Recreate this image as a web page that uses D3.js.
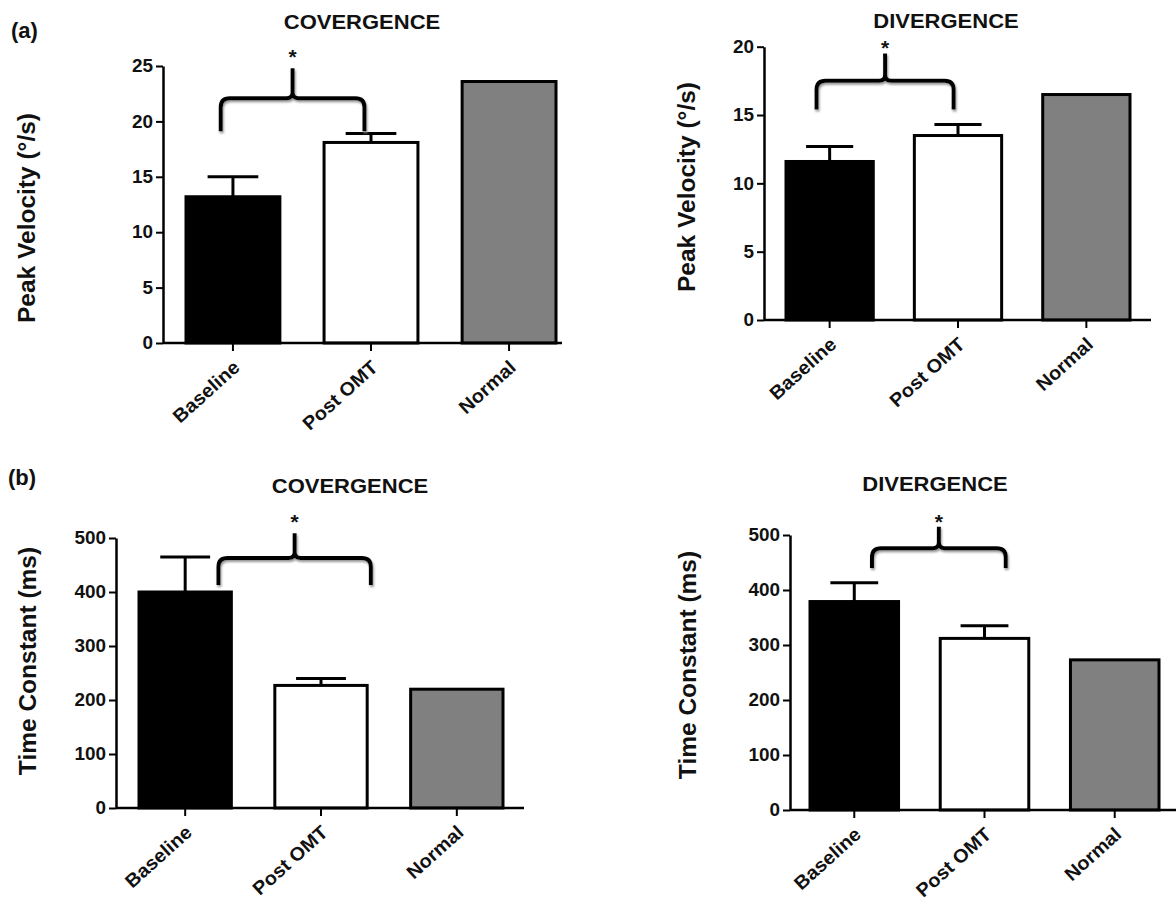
<!DOCTYPE html>
<html><head><meta charset="utf-8">
<script src="https://cdn.jsdelivr.net/npm/d3@7"></script>
<style>
body{margin:0;background:#fff}
svg{display:block}
text{font-family:"Liberation Sans",Arial,Helvetica,sans-serif;font-weight:bold;fill:#111}
</style>
</head><body>
<svg id="chart" width="1176" height="904"></svg>
<script>
// ---------- data ----------
const categories = ["Baseline", "Post OMT", "Normal"];
const convVelocity = [13.2, 18.1, 23.6];
const convVelocitySem = [1.8, 0.8, 0];
const divVelocity = [11.6, 13.5, 16.5];
const divVelocitySem = [1.1, 0.8, 0];
const convTime = [400, 227, 220];
const convTimeSem = [65, 13, 0];
const divTime = [379, 312, 273];
const divTimeSem = [34, 23, 0];
const velocityTicksConv = [0, 5, 10, 15, 20, 25];
const velocityTicksDiv = [0, 5, 10, 15, 20];
const timeTicks = [0, 100, 200, 300, 400, 500];
const panelTitles = ["COVERGENCE", "DIVERGENCE", "COVERGENCE", "DIVERGENCE"];
const yLabels = ["Peak Velocity (°/s)", "Peak Velocity (°/s)", "Time Constant (ms)", "Time Constant (ms)"];
const rowLabels = ["(a)", "(b)"];
const significance = "*";
const barColors = ["#000000", "#ffffff", "#808080"];

// ---------- layout ----------
const panels = [
  {values: convVelocity, sem: convVelocitySem, ticks: velocityTicksConv,
   axisX: 163, axisEnd: 562, bars: [186, 556], y0: 343, yTop: 66,
   titleX: 362, titleY: 29, labelX: 35, labelY: 218,
   br: {l: 0.37, r: 0.43, bottom: 19.1, h: 22.1, peak: 24.8, star: 26.3}},
  {values: divVelocity, sem: divVelocitySem, ticks: velocityTicksDiv,
   axisX: 764, axisEnd: 1151, bars: [786, 1130], y0: 320, yTop: 46.7,
   titleX: 946, titleY: 28, labelX: 695, labelY: 187,
   br: {l: 0.35, r: 0.45, bottom: 15.4, h: 17.5, peak: 19.5, star: 20.3}},
  {values: convTime, sem: convTimeSem, ticks: timeTicks,
   axisX: 116, axisEnd: 524, bars: [139, 503], y0: 808, yTop: 538,
   titleX: 350, titleY: 493, labelX: 36, labelY: 661,
   br: {l: 0.86, r: 1.04, bottom: 413, h: 463, peak: 509, star: 539}},
  {values: divTime, sem: divTimeSem, ticks: timeTicks,
   axisX: 790, axisEnd: 1176, bars: [810, 1159], y0: 810, yTop: 535,
   titleX: 935, titleY: 491, labelX: 696, labelY: 665,
   br: {l: 0.70, r: 0.74, bottom: 440, h: 476, peak: 515, star: 533}}
];
const rowLabelPos = [[11, 38], [8, 485]];

const svg = d3.select("#chart");
const defs = svg.append("defs");
const f = defs.append("filter").attr("id", "shadow").attr("x", "-20%").attr("y", "-20%").attr("width", "140%").attr("height", "160%");
f.append("feDropShadow").attr("dx", 1).attr("dy", 2).attr("stdDeviation", 1.2).attr("flood-color", "#8a8a8a").attr("flood-opacity", 0.9);

function stretch(sel, k) {
  sel.each(function () {
    const l = this.getComputedTextLength();
    this.setAttribute("textLength", l * k);
    this.setAttribute("lengthAdjust", "spacingAndGlyphs");
  });
}

panels.forEach((p, i) => {
  const g = svg.append("g");
  const y = d3.scaleLinear().domain([0, d3.max(p.ticks)]).range([p.y0, p.yTop]);
  const x = d3.scaleBand().domain(categories).range(p.bars).paddingInner(0.32).paddingOuter(0);
  const bw = x.bandwidth();

  // bars
  g.selectAll("rect.bar").data(categories).join("rect")
    .attr("class", "bar")
    .attr("x", d => x(d))
    .attr("y", (d, j) => y(p.values[j]))
    .attr("width", bw)
    .attr("height", (d, j) => y(0) - y(p.values[j]))
    .attr("fill", (d, j) => barColors[j])
    .attr("stroke", "#000").attr("stroke-width", 3);

  // error bars (upper only)
  const eb = categories.map((c, j) => ({c, v: p.values[j], s: p.sem[j]})).filter(d => d.s > 0);
  g.selectAll("line.err").data(eb).join("line")
    .attr("x1", d => x(d.c) + bw / 2).attr("x2", d => x(d.c) + bw / 2)
    .attr("y1", d => y(d.v)).attr("y2", d => y(d.v + d.s))
    .attr("stroke", "#000").attr("stroke-width", 3);
  g.selectAll("line.cap").data(eb).join("line")
    .attr("x1", d => x(d.c) + bw / 2 - bw * 0.27).attr("x2", d => x(d.c) + bw / 2 + bw * 0.27)
    .attr("y1", d => y(d.v + d.s)).attr("y2", d => y(d.v + d.s))
    .attr("stroke", "#000").attr("stroke-width", 3);

  // y axis
  const ya = g.append("g").attr("transform", `translate(${p.axisX},0)`)
    .call(d3.axisLeft(y).tickValues(p.ticks).tickSize(7).tickSizeOuter(0).tickPadding(3));
  ya.select(".domain").attr("stroke", "#000").attr("stroke-width", 2.5);
  ya.selectAll(".tick line").attr("stroke", "#000").attr("stroke-width", 2);
  ya.selectAll(".tick text").attr("font-size", 18).attr("fill", "#111")
    .style("font-family", '"Liberation Sans",Arial,sans-serif').style("font-weight", "bold");
  stretch(ya.selectAll(".tick text"), 1.05);

  // x axis
  const xa = g.append("g").attr("transform", `translate(0,${p.y0})`)
    .call(d3.axisBottom(x).tickSize(8).tickFormat(""));
  xa.select(".domain").remove();
  xa.selectAll(".tick line").attr("stroke", "#000").attr("stroke-width", 2);
  g.append("line").attr("x1", p.axisX).attr("x2", p.axisEnd).attr("y1", p.y0).attr("y2", p.y0)
    .attr("stroke", "#000").attr("stroke-width", 2.5);

  const xl = g.selectAll("text.xl").data(categories).join("text")
    .attr("class", "xl")
    .attr("text-anchor", "end")
    .attr("font-size", 19)
    .attr("transform", d => `translate(${x(d) + bw / 2 + 8},${p.y0 + 26}) rotate(-42)`)
    .text(d => d);
  stretch(xl, 1.05);

  // y label
  g.append("text").attr("text-anchor", "middle").attr("font-size", 24.5)
    .attr("transform", `translate(${p.labelX},${p.labelY}) rotate(-90)`)
    .text(yLabels[i]);

  // title
  const t = g.append("text").attr("text-anchor", "middle").attr("font-size", 20)
    .attr("x", p.titleX).attr("y", p.titleY).attr("fill", "#1a1a1a")
    .text(panelTitles[i]);
  stretch(t, 1.1);

  // significance bracket
  const b = p.br;
  const xL = x(categories[0]) + b.l * bw;
  const xR = x(categories[1]) + b.r * bw;
  const xC = (xL + xR) / 2;
  const yb = y(b.bottom), yh = y(b.h), yp = y(b.peak);
  const r = 9, r2 = 6;
  const path = d3.path();
  path.moveTo(xL, yb);
  path.lineTo(xL, yh + r);
  path.quadraticCurveTo(xL, yh, xL + r, yh);
  path.lineTo(xC - r2, yh);
  path.quadraticCurveTo(xC, yh, xC, yh - r2);
  path.lineTo(xC, yp);
  path.moveTo(xC, yh - r2);
  path.quadraticCurveTo(xC, yh, xC + r2, yh);
  path.lineTo(xR - r, yh);
  path.quadraticCurveTo(xR, yh, xR, yh + r);
  path.lineTo(xR, yb);
  g.append("path").attr("d", path.toString()).attr("fill", "none")
    .attr("stroke", "#000").attr("stroke-width", 4).attr("filter", "url(#shadow)");
  g.append("text").attr("text-anchor", "middle").attr("font-size", 21).attr("font-weight", "normal")
    .attr("fill", "#333").attr("x", xC).attr("y", y(b.star) + 12).text(significance);
});

rowLabels.forEach((lab, i) => {
  svg.append("text").attr("x", rowLabelPos[i][0]).attr("y", rowLabelPos[i][1])
    .attr("font-size", 22).text(lab);
});
</script>
</body></html>
